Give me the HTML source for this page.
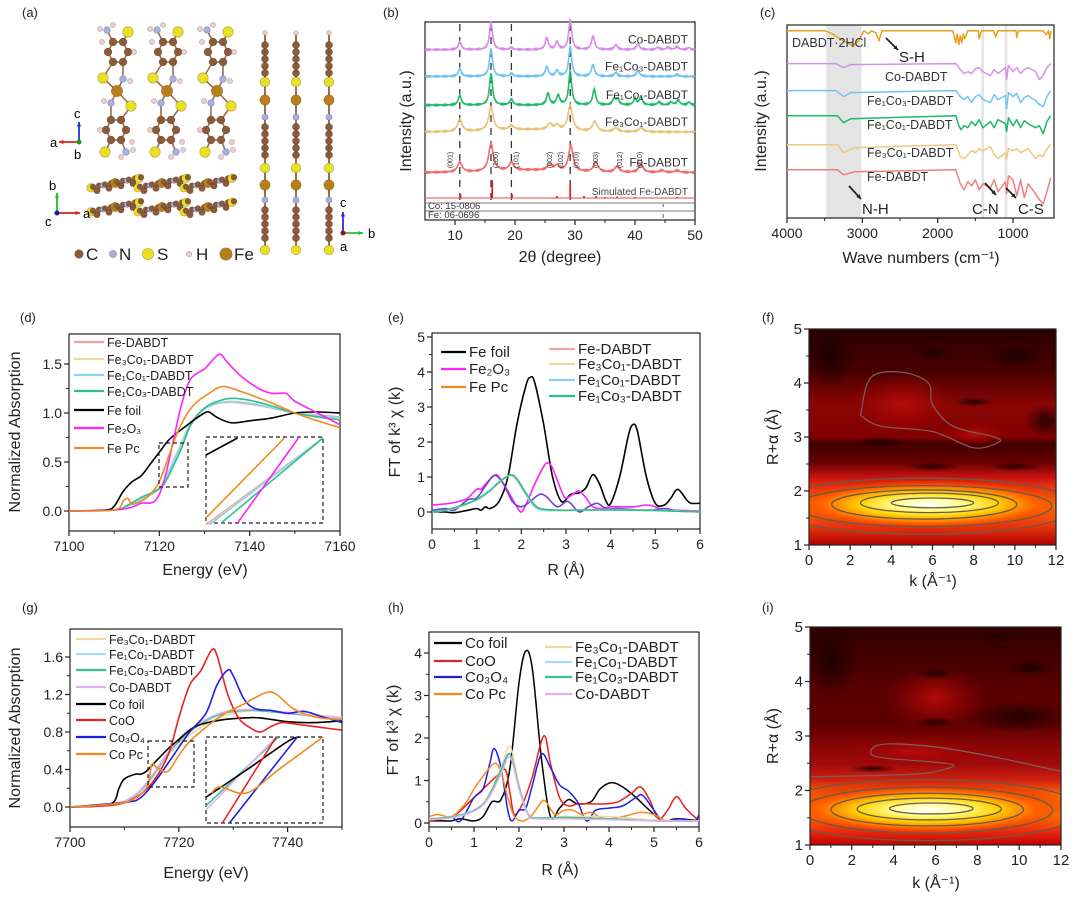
<!DOCTYPE html>
<html><head><meta charset="utf-8"><title>Fe/Co-DABDT characterization</title>
<style>
html,body{margin:0;padding:0;background:#fff;}
svg{display:block;font-family:"Liberation Sans","DejaVu Sans",sans-serif;}
</style></head>
<body>
<svg id="fig" xmlns="http://www.w3.org/2000/svg" width="1080" height="905" viewBox="0 0 1080 905">
<defs>
<radialGradient id="coreGrad" cx="50%" cy="50%" r="50%">
<stop offset="0" stop-color="#ffffff"/><stop offset="0.22" stop-color="#ffff90"/><stop offset="0.45" stop-color="#ffd000"/><stop offset="0.7" stop-color="#ff6000"/><stop offset="1" stop-color="#d01000" stop-opacity="0"/>
</radialGradient>
<radialGradient id="darkGrad" cx="50%" cy="50%" r="50%">
<stop offset="0" stop-color="#1a0000" stop-opacity="0.9"/><stop offset="1" stop-color="#1a0000" stop-opacity="0"/>
</radialGradient>
<radialGradient id="redGrad" cx="50%" cy="50%" r="50%">
<stop offset="0" stop-color="#b80c0c" stop-opacity="0.95"/><stop offset="1" stop-color="#a00000" stop-opacity="0"/>
</radialGradient>
<linearGradient id="fBg" x1="0" y1="0" x2="0" y2="1">
<stop offset="0" stop-color="#2a0000"/><stop offset="0.2" stop-color="#4a0000"/><stop offset="0.35" stop-color="#8a0505"/><stop offset="0.5" stop-color="#800000"/><stop offset="0.53" stop-color="#400000"/><stop offset="0.62" stop-color="#6a0000"/><stop offset="0.68" stop-color="#c01010"/><stop offset="0.74" stop-color="#f03a10"/><stop offset="0.82" stop-color="#ffa000"/><stop offset="0.9" stop-color="#f04010"/><stop offset="1" stop-color="#b00000"/>
</linearGradient>
<linearGradient id="iBg" x1="0" y1="0" x2="0" y2="1">
<stop offset="0" stop-color="#300000"/><stop offset="0.3" stop-color="#5a0000"/><stop offset="0.45" stop-color="#600000"/><stop offset="0.55" stop-color="#8a0505"/><stop offset="0.63" stop-color="#a00a0a"/><stop offset="0.7" stop-color="#d02010"/><stop offset="0.78" stop-color="#ff7000"/><stop offset="0.86" stop-color="#ffa000"/><stop offset="0.93" stop-color="#f03010"/><stop offset="1" stop-color="#c00000"/>
</linearGradient>
<clipPath id="clipD"><rect x="69" y="334" width="271" height="197"/></clipPath>
<clipPath id="clipE"><rect x="432" y="333" width="268" height="196"/></clipPath>
<clipPath id="clipG"><rect x="70" y="629" width="272" height="198"/></clipPath>
<clipPath id="clipH"><rect x="429" y="632" width="270" height="195"/></clipPath>
<clipPath id="clipF"><rect x="809" y="329" width="247" height="216"/></clipPath>
<clipPath id="clipI"><rect x="810" y="627" width="251" height="218"/></clipPath>
</defs>
</svg>
<script>
// ================= DATA =================
const xrdNames = ['Co-DABDT','Fe₁Co₃-DABDT','Fe₁Co₁-DABDT','Fe₃Co₁-DABDT','Fe-DABDT'];
const xrdOffsets = [86, 72.5, 58, 44.5, 24];
const xrdPeaksCo = [[10.8,4],[16,14],[19.4,1],[25.3,6],[27,4],[29.2,15],[33,7],[36.8,2.5],[40.5,3],[43.8,1.2],[45.5,1.2],[47,1.5],[49,1]];
const xrdPeaksFe1Co3 = [[10.8,4],[16,14],[19.4,1.5],[25.3,5],[27,3],[29.2,15],[33,6],[36.8,2],[40.5,3],[47,1]];
const xrdPeaksFe1Co1 = [[10.8,5],[16,16],[19.4,3],[25.5,6],[27.2,5],[29.2,17],[33.2,8],[36.5,3],[37.1,3],[40,3],[41,4],[44,1.5],[46,1.5],[47.2,2.5],[49,1.5]];
const xrdPeaksFe3Co1 = [[10.8,6],[16,12],[19.4,2],[25.8,3],[27,2.5],[29.2,13],[33.3,5],[36.8,2],[41,2]];
const xrdPeaksFe = [[10.8,5],[16,14],[19.4,4],[25.8,3],[27,2.5],[29.3,13],[33.5,5],[37,3],[41,4],[44.5,1],[47,1]];
const xrdSimSticks = [[10.9,2],[16.2,9],[19.5,2],[27,1],[29.2,7],[31.5,1],[33.5,1],[35,0.5],[37,0.7],[40,0.5],[47,0.5]];
const xrdDashes = [10.8, 16, 19.4, 29.2];
const xrdHkl = [['(001)',9.6],['(100)',17.2],['(101)',20.6],['(002)',26.2],['(102)',28],['(010)',30.6],['(003)',33.8],['(012)',37.8],['(210)',41.2]];
const irNames = ['DABDT·2HCl','Co-DABDT','Fe₁Co₃-DABDT','Fe₁Co₁-DABDT','Fe₃Co₁-DABDT','Fe-DABDT'];
const irBase = [97, 80, 66, 53, 38, 25];
const irDABDT = [[4000,0],[3500,0],[3400,3],[3300,8],[3200,12],[3130,15],[3050,10],[2980,0],[2920,3],[2880,0],[2820,2],[2780,10],[2740,0],[1800,0],[1760,12],[1740,3],[1720,14],[1700,5],[1680,12],[1660,3],[1640,8],[1600,0],[1460,0],[1450,8],[1420,0],[1260,0],[1230,6],[1200,0],[960,0],[950,7],[930,0],[600,0],[560,4],[530,0],[510,8],[500,0]];
const irCo = [[4000,0],[3350,0],[3250,4],[3150,1],[1760,0],[1700,6],[1650,10],[1600,8],[1550,10],[1500,5],[1450,4],[1400,8],[1300,12],[1250,6],[1200,10],[1100,4],[1085,16],[1060,2],[1000,8],[950,4],[900,10],[850,6],[800,4],[700,8],[650,16],[600,12],[550,4],[500,0]];
const irFe1Co3 = [[4000,0],[3350,0],[3250,6],[3150,2],[1760,0],[1700,6],[1650,9],[1600,6],[1550,12],[1500,6],[1450,4],[1400,9],[1300,12],[1250,4],[1200,9],[1100,5],[1085,18],[1060,2],[1000,6],[950,3],[900,12],[850,7],[800,5],[700,10],[650,14],[600,16],[550,6],[500,0]];
const irFe1Co1 = [[4000,0],[3330,0],[3250,7],[3150,3],[1760,0],[1720,10],[1690,14],[1650,10],[1600,12],[1550,6],[1500,10],[1450,4],[1400,12],[1300,6],[1250,12],[1200,4],[1100,8],[1085,16],[1060,2],[1000,10],[950,4],[900,12],[850,5],[800,8],[700,12],[650,10],[600,18],[550,6],[500,0]];
const irFe3Co1 = [[4000,0],[3330,0],[3250,8],[3100,3],[1760,0],[1700,12],[1650,14],[1600,10],[1550,6],[1500,8],[1450,4],[1400,6],[1300,2],[1250,10],[1200,14],[1100,8],[1085,14],[1060,4],[1000,6],[950,4],[900,8],[850,6],[800,4],[700,14],[650,10],[600,12],[550,4],[500,0]];
const irFe = [[4000,0],[3330,0],[3250,5],[3100,2],[1760,0],[1700,14],[1650,20],[1600,12],[1550,16],[1500,10],[1450,20],[1400,14],[1300,18],[1250,10],[1200,22],[1100,12],[1085,24],[1060,6],[1000,10],[950,26],[900,10],[850,28],[800,14],[700,24],[650,30],[600,34],[550,22],[500,8]];
const dNames = ['Fe-DABDT','Fe₃Co₁-DABDT','Fe₁Co₁-DABDT','Fe₁Co₃-DABDT','Fe foil','Fe₂O₃','Fe Pc'];
const dFeFoil = [[7100,0],[7108,0.01],[7110,0.05],[7112,0.2],[7114,0.3],[7116,0.36],[7118,0.48],[7120,0.6],[7122,0.72],[7124,0.8],[7126,0.87],[7128,0.94],[7130,1.0],[7131,1.01],[7133,0.95],[7136,0.9],[7140,0.92],[7145,0.95],[7150,1.0],[7155,1.01],[7160,1.0]];
const dFe2O3 = [[7100,0],[7110,0.01],[7114,0.04],[7116,0.08],[7119,0.1],[7121,0.3],[7123,0.7],[7125,1.1],[7127,1.35],[7130,1.45],[7132,1.55],[7133.5,1.6],[7135,1.52],[7138,1.38],[7142,1.25],[7145,1.2],[7148,1.2],[7150,1.12],[7155,1.0],[7160,0.88]];
const dFePc = [[7100,0],[7110,0.01],[7112,0.1],[7113,0.13],[7114,0.07],[7116,0.1],[7118,0.17],[7120,0.3],[7122,0.55],[7124,0.8],[7126,0.98],[7128,1.1],[7131,1.2],[7134,1.27],[7138,1.22],[7145,1.1],[7150,1.0],[7155,0.92],[7160,0.85]];
const dFeDABDT = [[7100,0],[7110,0.01],[7113,0.05],[7116,0.12],[7119,0.2],[7121,0.3],[7123,0.5],[7125,0.7],[7127,0.9],[7130,1.05],[7133,1.1],[7136,1.11],[7140,1.09],[7145,1.05],[7150,1.0],[7155,0.98],[7160,0.96]];
const dFe3Co1 = [[7100,0],[7110,0.01],[7113,0.05],[7116,0.12],[7119,0.2],[7121,0.31],[7123,0.51],[7125,0.71],[7127,0.91],[7130,1.05],[7133,1.1],[7136,1.12],[7140,1.1],[7145,1.05],[7150,1.0],[7155,0.97],[7160,0.95]];
const dFe1Co1 = [[7100,0],[7110,0.01],[7113,0.05],[7116,0.12],[7119,0.19],[7121,0.29],[7123,0.49],[7125,0.69],[7127,0.9],[7130,1.04],[7133,1.1],[7136,1.11],[7140,1.1],[7145,1.05],[7150,1.0],[7155,0.97],[7160,0.95]];
const dFe1Co3 = [[7100,0],[7110,0.01],[7113,0.06],[7116,0.14],[7119,0.2],[7121,0.27],[7123,0.45],[7125,0.65],[7127,0.88],[7130,1.05],[7133,1.12],[7136,1.15],[7140,1.13],[7145,1.07],[7150,1.0],[7155,0.96],[7160,0.93]];
const eFeFoil = [[0,0],[0.3,0],[0.5,-0.02],[0.8,0.05],[1,0.1],[1.1,0.05],[1.2,0.15],[1.3,0.1],[1.5,0.3],[1.7,1.0],[1.9,2.5],[2.1,3.6],[2.2,3.85],[2.3,3.7],[2.5,2.5],[2.7,1.0],[2.9,0.3],[3.1,0.5],[3.3,0.55],[3.45,0.7],[3.6,1.07],[3.75,0.8],[3.9,0.3],[4.0,0.25],[4.2,1.0],[4.4,2.2],[4.5,2.5],[4.6,2.3],[4.8,1.0],[5.0,0.25],[5.2,0.2],[5.35,0.4],[5.5,0.65],[5.7,0.35],[5.8,0.25],[6,0.25]];
const eFe2O3 = [[0,0.2],[0.2,0.22],[0.4,0.25],[0.6,0.3],[0.8,0.4],[1,0.65],[1.1,0.65],[1.2,0.8],[1.4,1.05],[1.5,1.0],[1.7,0.6],[1.9,0.15],[2.0,0],[2.1,0.2],[2.3,0.8],[2.5,1.3],[2.6,1.4],[2.7,1.25],[2.9,0.6],[3.0,0.4],[3.2,0.55],[3.3,0.6],[3.45,0.4],[3.6,0.15],[3.8,0.1],[4,0.15],[4.5,0.15],[4.8,0.2],[5,0.15],[5.2,0.05],[5.5,0.05],[6,0.02]];
const eFePc = [[0,0.05],[0.3,0.1],[0.5,0.05],[0.8,0.35],[1,0.4],[1.2,0.75],[1.4,1.05],[1.6,0.8],[1.8,0.3],[2,0.15],[2.2,0.3],[2.4,0.5],[2.55,0.45],[2.8,0.15],[3.0,0.3],[3.1,0.25],[3.3,0],[3.5,0.15],[3.7,0.25],[3.9,0.1],[4.2,0.1],[4.8,0.05],[5.2,0.1],[5.5,0.03],[6,0.02]];
const eFeDABDT = [[0,0],[0.3,0.05],[0.6,0.15],[1,0.35],[1.3,0.6],[1.5,0.85],[1.75,1.05],[1.9,0.9],[2.1,0.5],[2.3,0.15],[2.5,0.05],[3,0.05],[4,0.07],[5,0.05],[6,0]];
const eFe3Co1 = [[0,0],[0.3,0.05],[0.6,0.14],[1,0.34],[1.3,0.6],[1.5,0.84],[1.75,1.04],[1.9,0.9],[2.1,0.5],[2.3,0.14],[2.5,0.05],[3,0.05],[4,0.06],[5,0.05],[6,0]];
const eFe1Co1 = [[0,0],[0.3,0.05],[0.6,0.15],[1,0.35],[1.3,0.6],[1.5,0.86],[1.75,1.06],[1.9,0.92],[2.1,0.5],[2.3,0.15],[2.5,0.05],[3,0.05],[4,0.07],[5,0.05],[6,0]];
const eFe1Co3 = [[0,0],[0.3,0.06],[0.6,0.16],[1,0.36],[1.3,0.62],[1.5,0.85],[1.75,1.06],[1.9,0.95],[2.1,0.55],[2.3,0.2],[2.5,0.08],[3,0.05],[4,0.06],[5,0.04],[6,0]];
const gCoFoil = [[7700,0],[7705,0.01],[7708,0.05],[7709,0.2],[7710,0.3],[7712,0.35],[7713,0.35],[7714,0.38],[7716,0.5],[7718,0.62],[7720,0.72],[7722,0.82],[7724,0.88],[7728,0.93],[7732,0.95],[7735,0.95],[7740,0.91],[7745,0.9],[7750,0.92]];
const gCoO = [[7700,0],[7708,0.02],[7712,0.1],[7715,0.25],[7718,0.55],[7720,0.95],[7722,1.3],[7724,1.45],[7726,1.67],[7727,1.62],[7729,1.2],[7731,0.95],[7733,0.85],[7735,0.8],[7737,0.86],[7739,0.9],[7742,0.88],[7746,0.85],[7750,0.82]];
const gCo3O4 = [[7700,0],[7710,0.05],[7713,0.1],[7716,0.3],[7719,0.55],[7722,0.8],[7725,1.0],[7727,1.3],[7729,1.46],[7730,1.4],[7732,1.15],[7734,1.05],[7737,1.03],[7740,1.0],[7743,1.02],[7746,0.97],[7750,0.9]];
const gCoPc = [[7700,0],[7710,0.05],[7714,0.2],[7715,0.45],[7716,0.42],[7718,0.38],[7720,0.55],[7722,0.7],[7725,0.85],[7728,0.98],[7732,1.1],[7736,1.22],[7738,1.2],[7741,1.05],[7745,0.96],[7750,0.93]];
const gFe3Co1 = [[7700,0],[7708,0.03],[7712,0.12],[7715,0.3],[7718,0.55],[7721,0.72],[7724,0.85],[7727,0.94],[7730,1.0],[7734,1.03],[7740,1.0],[7745,0.98],[7750,0.96]];
const gFe1Co1 = [[7700,0],[7708,0.03],[7712,0.12],[7715,0.31],[7718,0.56],[7721,0.75],[7724,0.88],[7727,0.97],[7730,1.02],[7734,1.03],[7740,1.0],[7745,0.97],[7750,0.95]];
const gFe1Co3 = [[7700,0],[7708,0.03],[7712,0.13],[7715,0.32],[7718,0.57],[7721,0.76],[7724,0.89],[7727,0.98],[7730,1.02],[7734,1.03],[7740,1.0],[7745,0.97],[7750,0.94]];
const gCoDABDT = [[7700,0],[7708,0.03],[7712,0.13],[7715,0.33],[7718,0.58],[7721,0.78],[7724,0.9],[7727,0.99],[7730,1.03],[7734,1.04],[7740,1.01],[7745,0.97],[7750,0.95]];
const hCoFoil = [[0,0.05],[0.3,0.05],[0.5,0.05],[0.7,0.1],[1,0.05],[1.2,0.15],[1.4,0.5],[1.6,0.55],[1.8,1.3],[2.0,3.3],[2.15,4.05],[2.3,3.6],[2.5,1.5],[2.7,0.15],[2.9,0.35],[3.1,0.55],[3.3,0.45],[3.6,0.5],[3.8,0.8],[4.05,0.95],[4.3,0.85],[4.6,0.6],[4.9,0.3],[5.2,0.05],[5.5,0.1],[6,0.05]];
const hCoO = [[0,0.05],[0.3,0.1],[0.6,0.2],[0.9,0.5],[1.1,0.7],[1.3,0.9],[1.5,1.1],[1.7,1.25],[1.8,0.7],[1.9,0.2],[2.1,0.5],[2.3,1.1],[2.55,2.05],[2.7,1.4],[2.9,0.6],[3.1,0.4],[3.3,0.45],[3.6,0.45],[3.9,0.45],[4.2,0.5],[4.5,0.7],[4.7,0.85],[4.9,0.55],[5.1,0.1],[5.3,0.3],[5.5,0.62],[5.7,0.35],[6,0.05]];
const hCo3O4 = [[0,0.1],[0.3,0.1],[0.5,0.15],[0.7,0.05],[1,0.6],[1.2,0.8],[1.35,1.4],[1.45,1.75],[1.6,1.3],[1.75,0.3],[1.85,0.05],[2.0,0.3],[2.15,0.35],[2.3,0.9],[2.5,1.62],[2.7,1.3],[2.9,0.9],[3.1,0.75],[3.3,0.5],[3.5,0.05],[3.7,0.3],[4,0.35],[4.3,0.4],[4.6,0.6],[4.75,0.65],[5.0,0.3],[5.2,0.05],[5.6,0.1],[5.9,0.05],[6,0.2]];
const hCoPc = [[0,0.15],[0.2,0.2],[0.5,0.15],[0.8,0.45],[1,0.8],[1.2,1.1],[1.45,1.4],[1.6,1.2],[1.75,0.6],[1.9,0.15],[2.1,0.05],[2.3,0.2],[2.5,0.5],[2.6,0.5],[2.8,0.2],[3,0.3],[3.2,0.3],[3.4,0.2],[3.6,0.25],[3.9,0.1],[4.3,0.15],[4.7,0.25],[5,0.2],[5.3,0.05],[6,0.05]];
const hFe3Co1 = [[0,0.1],[0.5,0.15],[1,0.3],[1.3,0.6],[1.6,1.3],[1.8,1.8],[2.0,0.9],[2.2,0.2],[2.4,0.1],[3,0.15],[4,0.15],[5,0.07],[6,0.05]];
const hFe1Co1 = [[0,0.1],[0.5,0.12],[1,0.28],[1.3,0.55],[1.6,1.2],[1.8,1.6],[2.0,0.8],[2.2,0.2],[2.4,0.1],[3,0.12],[4,0.1],[5,0.05],[6,0.05]];
const hFe1Co3 = [[0,0.1],[0.5,0.14],[1,0.3],[1.3,0.58],[1.6,1.25],[1.8,1.62],[2.0,0.85],[2.2,0.22],[2.4,0.12],[3,0.13],[4,0.1],[5,0.05],[6,0.05]];
const hCoDABDT = [[0,0.08],[0.5,0.12],[1,0.28],[1.3,0.55],[1.6,1.15],[1.8,1.55],[2.0,0.8],[2.2,0.2],[2.4,0.1],[3,0.1],[4,0.08],[5,0.05],[6,0.05]];
const fCoreBlob = [5.8, 1.75, 7.5, 0.5];
const fRedLobes = [[4.5,3.6,2.6,0.6],[8,3.05,1.8,0.25]];
const fDarkSpots = [[3.5,2.9,1.3,0.09],[6,2.45,1.3,0.08],[10,2.45,1.3,0.08],[6,4.55,0.8,0.12],[8,3.65,1,0.09],[10,4.5,1.5,0.2],[11.5,3.3,1,0.3],[1,4.5,1.2,0.6]];
const fContours = [[6,1.78,2,0.09],[5.85,1.78,3.35,0.18],[5.6,1.75,4.5,0.27],[5.6,1.72,6.2,0.38],[5.6,1.72,7.5,0.52]];
const fLobeContour = [[2.5,3.4],[3,4.1],[4.5,4.2],[5.8,4.0],[6,3.6],[7,3.2],[9,3.0],[9.2,2.9],[8,2.8],[6,3.1],[3.5,3.2]];
const iCoreBlob = [5.6, 1.65, 7.5, 0.5];
const iRedLobes = [[5,2.7,3.5,0.3],[6,3.7,2.5,0.6]];
const iDarkSpots = [[3,2.4,1.2,0.07],[6,4.15,1,0.1],[9,4.8,0.8,0.1],[10.5,4.25,1.2,0.15],[6,3.25,1,0.1],[10,3.35,2.5,0.3],[1,4.4,1.3,0.7]];
const iContours = [[5.8,1.67,2,0.1],[5.7,1.66,3.45,0.2],[5.6,1.65,4.6,0.3],[5.6,1.64,6,0.42],[5.6,1.64,7.5,0.56]];
const iLobeLine = [[12,2.35],[9,2.6],[6,2.8],[3.5,2.85],[2.9,2.7],[3.5,2.6],[6.5,2.5],[6.7,2.42],[5,2.3],[0,2.25]];

// ================= HELPERS =================
const NS='http://www.w3.org/2000/svg';
const svg=document.getElementById('fig');
function mk(tag,attrs,parent){const e=document.createElementNS(NS,tag);for(const k in attrs)e.setAttribute(k,attrs[k]);(parent||svg).appendChild(e);return e;}
function txt(x,y,s,attrs,parent){const t=mk('text',Object.assign({x:x,y:y},attrs||{}),parent);t.textContent=s;return t;}
function lin(d0,d1,r0,r1){return v=>r0+(v-d0)*(r1-r0)/(d1-d0);}
function smooth(pts){
  if(pts.length<2)return '';
  let d='M'+pts[0][0].toFixed(1)+','+pts[0][1].toFixed(1);
  for(let i=0;i<pts.length-1;i++){
    const p0=pts[Math.max(0,i-1)],p1=pts[i],p2=pts[i+1],p3=pts[Math.min(pts.length-1,i+2)];
    const c1=[p1[0]+(p2[0]-p0[0])/6,p1[1]+(p2[1]-p0[1])/6],c2=[p2[0]-(p3[0]-p1[0])/6,p2[1]-(p3[1]-p1[1])/6];
    d+='C'+c1[0].toFixed(1)+','+c1[1].toFixed(1)+' '+c2[0].toFixed(1)+','+c2[1].toFixed(1)+' '+p2[0].toFixed(1)+','+p2[1].toFixed(1);
  }
  return d;
}
function poly(pts){return 'M'+pts.map(p=>p[0].toFixed(1)+','+p[1].toFixed(1)).join('L');}
function panelLabel(x,y,s){
  const t=txt(x,y,s,{'font-size':13,fill:'#222'});
  
  
}
function axes(name,box,sx,sy,xt,yt,xm,ym,xfmt,yfmt,fs){
  fs=fs||14;
  const g=mk('g',{});
  
  
  const r=mk('rect',{x:box.l,y:box.t,width:box.r-box.l,height:box.b-box.t,fill:'none',stroke:'#222','stroke-width':1.2},g);
  
  
  xt.forEach(v=>{
    const X=sx(v);
    const tk=mk('line',{x1:X,x2:X,y1:box.b,y2:box.b+5,stroke:'#222','stroke-width':1.2},g);
    
    
    const lb=txt(X,box.b+20,xfmt(v),{'font-size':fs,'text-anchor':'middle',fill:'#222'},g);
    
    
  });
  xm.forEach(v=>{
    const X=sx(v);
    const tk=mk('line',{x1:X,x2:X,y1:box.b,y2:box.b+3,stroke:'#222','stroke-width':1},g);
    
    
  });
  yt.forEach(v=>{
    const Y=sy(v);
    const tk=mk('line',{x1:box.l-5,x2:box.l,y1:Y,y2:Y,stroke:'#222','stroke-width':1.2},g);
    
    
    const lb=txt(box.l-7,Y+5,yfmt(v),{'font-size':fs,'text-anchor':'end',fill:'#222'},g);
    
    
  });
  ym.forEach(v=>{
    const Y=sy(v);
    const tk=mk('line',{x1:box.l-3,x2:box.l,y1:Y,y2:Y,stroke:'#222','stroke-width':1},g);
    
    
  });
}
function axTitleX(x,y,s,name,fs){
  const t=txt(x,y,s,{'font-size':fs||16,'text-anchor':'middle',fill:'#222'});
  
  
  return t;
}
function axTitleY(x,y,s,name,fs){
  const t=txt(0,0,s,{'font-size':fs||16,'text-anchor':'middle',fill:'#222',transform:'translate('+x+','+y+') rotate(-90)'});
  
  
  return t;
}
function series(name,data,sx,sy,color,w,clip,isPoly){
  const pts=data.map(p=>[sx(p[0]),sy(p[1])]);
  const p=mk('path',{d:isPoly?poly(pts):smooth(pts),fill:'none',stroke:color,'stroke-width':w||1.6,'stroke-linejoin':'round','clip-path':clip?'url(#'+clip+')':''});
  
  
  return p;
}
function legendEntry(name,x1,x2,y,label,color,fs){
  const l=mk('line',{x1:x1,x2:x2,y1:y,y2:y,stroke:color,'stroke-width':2.2});
  
  
  const t=txt(x2+3,y+5,label,{'font-size':fs||13,fill:'#222'});
  
  
}
function dashRect(name,x,y,w,h){
  const r=mk('rect',{x:x,y:y,width:w,height:h,fill:'none',stroke:'#222','stroke-width':1.2,'stroke-dasharray':'4,3'});
  
  
}

// ================= PANEL (a) =================
panelLabel(22,17,'(a)');
const atomCol={C:'#8a5a3a',N:'#aab0d8',S:'#e8e020',H:'#eccfcf',Fe:'#b8801a'};
const atomR={C:3.6,N:3,S:4.8,H:2.3,Fe:5.2};
function atom(x,y,t,scale){
  const c=mk('circle',{cx:x,cy:y,r:atomR[t]*(scale||1),fill:atomCol[t],stroke:t==='N'?'#8088c0':'rgba(60,30,10,0.35)','stroke-width':0.6});
  
  
}
// top view molecule (absolute offsets from column centre, y from top)
const molAtoms=[['N',-10,0],['H',-17,-1],['H',-4,-5],['S',11,2],['C',-4,12],['C',6,12],['C',11,22],['C',6,32],['C',-4,32],['C',-9,22],['H',-15,12],['H',17,22],['S',-14,48],['N',6,49],['H',13,51],['Fe',0,61],['N',-6,73],['H',-13,71],['S',14,76],['C',-6,90],['C',4,90],['C',9,100],['C',4,110],['C',-6,110],['C',-11,100],['H',-17,100],['H',15,112],['S',-12,122],['N',9,122],['H',16,120],['H',4,127]];
const molBonds=[[0,4],[3,5],[4,5],[5,6],[6,7],[7,8],[8,9],[9,4],[8,12],[7,13],[12,15],[13,15],[15,16],[15,18],[16,19],[18,20],[19,20],[20,21],[21,22],[22,23],[23,24],[24,19],[23,27],[22,28]];
[117,167,217].forEach(cx=>{
  const top=30;
  const bonds=mk('g',{stroke:'#9a7050','stroke-width':1.6});
  
  
  molBonds.forEach(b=>{const a=molAtoms[b[0]],c=molAtoms[b[1]];mk('line',{x1:cx+a[1],y1:top+a[2],x2:cx+c[1],y2:top+c[2]},bonds);});
  molAtoms.forEach(a=>atom(cx+a[1],top+a[2],a[0],1.1));
});
[[185,0],[212,-3]].forEach(row=>{
  [115,162,208].forEach(cx=>{
    for(let i=-4;i<=4;i++){
      const x=cx+i*6,y=row[0]-i*1.2+row[1];
      atom(x,y+((i%2)?2:-2),(Math.abs(i)===4)?'S':(i===0?'Fe':(i%2?'C':'N')),0.9);
      atom(x+2,y-3,'C',0.8);
    }
  });
});
const chainSeq=[['H',33],['C',45],['C',52],['C',59],['C',66],['C',73],['S',82],['Fe',100],['N',117],['C',127],['C',134],['C',141],['C',148],['C',155],['S',168],['Fe',185],['N',200],['C',210],['C',217],['C',224],['C',231],['C',238],['S',250]];
[265,296,329].forEach(x=>{
  const ln=mk('line',{x1:x,x2:x,y1:33,y2:250,stroke:'#9a7050','stroke-width':2});
  
  
  chainSeq.forEach(a=>atom(x,a[1],a[0]));
});
function arrow(x1,y1,x2,y2,color,name){
  const l=mk('line',{x1:x1,y1:y1,x2:x2,y2:y2,stroke:color,'stroke-width':1.8});
  
  
  const a=Math.atan2(y2-y1,x2-x1),s=5;
  const h=mk('polygon',{points:[[x2,y2],[x2-s*Math.cos(a-0.45),y2-s*Math.sin(a-0.45)],[x2-s*Math.cos(a+0.45),y2-s*Math.sin(a+0.45)]].map(p=>p.join(',')).join(' '),fill:color});
  
  
}
arrow(79,142,59,142,'#e02020','axis-arrow-a');arrow(79,142,79,122,'#2030e0','axis-arrow-c');
mk('circle',{cx:79,cy:142,r:2.5,fill:'#10a020'});
txt(50,147,'a',{'font-size':13});txt(74,118,'c',{'font-size':13});txt(74,159,'b',{'font-size':13});
arrow(57,213,57,193,'#20c030','axis-arrow-b2');arrow(57,213,80,213,'#e02020','axis-arrow-a2');
mk('circle',{cx:57,cy:213,r:2.5,fill:'#1020a0'});
txt(49,190,'b',{'font-size':13});txt(83,218,'a',{'font-size':13});txt(45,226,'c',{'font-size':13});
arrow(343,233,343,212,'#2030e0','axis-arrow-c3');arrow(343,233,363,233,'#20c030','axis-arrow-b3');
mk('circle',{cx:343,cy:233,r:2.5,fill:'#a01010'});
txt(340,207,'c',{'font-size':13});txt(368,238,'b',{'font-size':13});txt(340,251,'a',{'font-size':13});
[['C',79,86],['N',113,119],['S',148,157],['H',189,196],['Fe',226,234]].forEach(e=>{
  atom(e[1],254,e[0],1.2);
  const t=txt(e[2],260,e[0],{'font-size':17,fill:'#222'});
  
  
});

// ================= PANEL (b) =================
panelLabel(383,17,'(b)');
const bBox={l:425,r:695,t:22,b:220};
const bx=lin(5,50,425,695), by=lin(0,100,220,22);
axes('xrd',bBox,bx,by,[10,20,30,40,50],[],[15,25,35,45],[],v=>String(v),v=>'');
axTitleX(560,262,'2θ (degree)','xrd-x-axis-title');
axTitleY(411,121,'Intensity (a.u.)','xrd-y-axis-title');
const xrdCols=['#d98be8','#6ec3f0','#1fbb6a','#e8c47a','#ef6d6d'];
const xrdPeakSets=[xrdPeaksCo,xrdPeaksFe1Co3,xrdPeaksFe1Co1,xrdPeaksFe3Co1,xrdPeaksFe];
xrdDashes.forEach(v=>{
  const l=mk('line',{x1:bx(v),x2:bx(v),y1:24,y2:202,stroke:'#333','stroke-width':1.3,'stroke-dasharray':'7,6'});
  
  
});
xrdPeakSets.forEach((pk,si)=>{
  const w=si>=3?0.45:0.3;
  const pts=[];
  for(let t=5;t<=50;t+=0.08){
    let v=xrdOffsets[si];
    pk.forEach(p=>{v+=p[1]/(1+Math.pow((t-p[0])/w,2));});
    if(si>=3) v+=1.2*Math.exp(-Math.pow((t-22)/8,2));
    pts.push([bx(t),by(v)+Math.sin(t*37)*0.4]);
  }
  const p=mk('path',{d:poly(pts),fill:'none',stroke:xrdCols[si],'stroke-width':1.6});
  
  
  const lb=txt(688,by(xrdOffsets[si])-6,xrdNames[si],{'font-size':12,'text-anchor':'end',fill:'#333'});
  
  
});
xrdHkl.forEach(h=>{
  const t=txt(0,0,h[0],{'font-size':7,fill:'#333','text-anchor':'middle',transform:'translate('+bx(h[1])+',160) rotate(-90)'});
  
  
});
const simBase=11.1;
const sb=mk('line',{x1:425,x2:695,y1:by(simBase),y2:by(simBase),stroke:'#ef6d6d','stroke-width':1.2});


xrdSimSticks.forEach(s=>{
  const l=mk('line',{x1:bx(s[0]),x2:bx(s[0]),y1:by(simBase),y2:by(simBase+s[1]),stroke:'#e02020','stroke-width':1.8});
  
  
});
txt(688,195,'Simulated Fe-DABDT',{'font-size':10,'text-anchor':'end',fill:'#444'});
[203,211].forEach(y=>{const l=mk('line',{x1:425,x2:695,y1:y,y2:y,stroke:'#777','stroke-width':1});});
txt(428,209,'Co: 15-0806',{'font-size':9.5,fill:'#333'});
txt(428,218,'Fe:  06-0696',{'font-size':9.5,fill:'#333'});
mk('line',{x1:bx(44.7),x2:bx(44.7),y1:204,y2:207,stroke:'#a06080','stroke-width':1.2});
mk('line',{x1:bx(44.7),x2:bx(44.7),y1:214,y2:218,stroke:'#8060c0','stroke-width':1.2});

// ================= PANEL (c) =================
panelLabel(760,17,'(c)');
const cBox={l:787,r:1054,t:25,b:218};
const cx=lin(4000,500,787,1050.7), cy=lin(0,100,218,25);
[[3480,3010],[1420,1385],[1110,1075]].forEach(b=>{
  const r=mk('rect',{x:cx(b[0]),y:25,width:cx(b[1])-cx(b[0]),height:193,fill:'#e4e4e4'});
  
  
});
axes('ftir',cBox,cx,cy,[4000,3000,2000,1000],[],[3500,2500,1500],[],v=>String(v),v=>'');
axTitleX(921,263,'Wave numbers (cm⁻¹)','ftir-x-axis-title');
axTitleY(766,121,'Intensity (a.u.)','ftir-y-axis-title');
const irCols=['#e8a020','#d790e8','#72c4f0','#20b86a','#ecc880','#f08080'];
[irDABDT,irCo,irFe1Co3,irFe1Co1,irFe3Co1,irFe].forEach((d,i)=>{
  series('ftir-spectrum-'+i,d.map(p=>[p[0],irBase[i]-p[1]/1.93]),cx,cy,irCols[i],1.5,null,true);
});
[['DABDT·2HCl',792,47],['Co-DABDT',885,81],['Fe₁Co₃-DABDT',867,105],['Fe₁Co₁-DABDT',867,129],['Fe₃Co₁-DABDT',867,157],['Fe-DABDT',867,181]].forEach(l=>{
  const t=txt(l[1],l[2],l[0],{'font-size':12.5,fill:'#333'});
  
  
});
[['S-H',899,62],['N-H',862,214],['C-N',972,214],['C-S',1018,214]].forEach(l=>{
  const t=txt(l[1],l[2],l[0],{'font-size':15,fill:'#222'});
  
  
});
arrow(886,38,898,50,'#222','ftir-sh-arrow');arrow(849,186,861,199,'#222','ftir-nh-arrow');
arrow(985,183,996,195,'#222','ftir-cn-arrow');arrow(1006,188,1016,198,'#222','ftir-cs-arrow');

// ================= PANEL (d) =================
panelLabel(20,322,'(d)');
const dBox={l:69,r:340,t:334,b:531};
const dx=lin(7100,7160,69,340), dy=lin(0,1.5,511,364);
axes('fe-xanes',dBox,dx,dy,[7100,7120,7140,7160],[0,0.5,1,1.5],[7110,7130,7150],[0.25,0.75,1.25],v=>String(v),v=>v.toFixed(1));
axTitleX(205,575,'Energy (eV)','fe-xanes-x-axis-title');
axTitleY(20,432,'Normalized  Absorption','fe-xanes-y-axis-title');
const dCols=['#f2a3a3','#f0d8a0','#8fd0f5','#2fc08a','#000000','#ff22ff','#f08a20'];
[dFeDABDT,dFe3Co1,dFe1Co1,dFe1Co3,dFeFoil,dFe2O3,dFePc].forEach((d,i)=>series('fe-xanes-'+dNames[i].toLowerCase().replace(/[^a-z0-9]+/g,'-'),d,dx,dy,dCols[i],1.6,'clipD'));
dashRect('fe-xanes-zoom-region',159,443,29,44);
dashRect('fe-xanes-inset-box',206,437,117,86);
const dInsetX=lin(0,1,206,323), dInsetY=lin(0,1,523,438);
const dInsetLines=[['#f08a20',[[0,0.06],[0.67,1]]],['#f2a3a3',[[0,-0.02],[1,1]]],['#f0d8a0',[[0.02,-0.02],[1,1]]],['#8fd0f5',[[0.03,-0.02],[1,1]]],['#2fc08a',[[0.13,0],[1,1]]],['#ff22ff',[[0.27,0],[0.79,1]]],['#000',[[0,0.8],[0.27,1]]]];
dInsetLines.forEach((l,i)=>series('fe-xanes-inset-line-'+i,l[1],dInsetX,dInsetY,l[0],1.6,null,true));
dNames.forEach((n,i)=>legendEntry('fe-xanes-legend-'+i,74,104,[342,359,375,391,410,428,448][i],n,dCols[i],12.5));

// ================= PANEL (e) =================
panelLabel(388,322,'(e)');
const eBox={l:432,r:700,t:333,b:529};
const ex=lin(0,6,432,700), ey=lin(0,5,512,337);
axes('fe-exafs',eBox,ex,ey,[0,1,2,3,4,5,6],[0,1,2,3,4,5],[0.5,1.5,2.5,3.5,4.5,5.5],[0.5,1.5,2.5,3.5,4.5],v=>String(v),v=>String(v));
axTitleX(566,575,'R (Å)','fe-exafs-x-axis-title');
axTitleY(400,432,'FT of k³ χ (k)','fe-exafs-y-axis-title');
const eCols=['#000000','#ff22ff','#7040d0','#f2a3a3','#f0d8a0','#8fd0f5','#2fc08a'];
[eFeFoil,eFe2O3,eFePc,eFeDABDT,eFe3Co1,eFe1Co1,eFe1Co3].forEach((d,i)=>series('fe-exafs-series-'+i,d,ex,ey,eCols[i],1.6,'clipE'));
[['Fe foil','#000',352],['Fe₂O₃','#ff22ff',369],['Fe Pc','#f08a20',387]].forEach((l,i)=>legendEntry('fe-exafs-legend-left-'+i,441,466,l[2],l[0],l[1],15));
[['Fe-DABDT','#f2a3a3',349],['Fe₃Co₁-DABDT','#f0d8a0',364],['Fe₁Co₁-DABDT','#8fd0f5',380],['Fe₁Co₃-DABDT','#2fc08a',396]].forEach((l,i)=>legendEntry('fe-exafs-legend-right-'+i,549,575,l[2],l[0],l[1],15));

// ================= WT heatmaps =================
function wtPanel(pfx,box,kx,ry,bg,clip,core,lobes,darks,contours,lobePath,closed){
  const g=mk('g',{'clip-path':'url(#'+clip+')'});
  
  
  mk('rect',{x:box.l,y:box.t,width:box.r-box.l,height:box.b-box.t,fill:'url(#'+bg+')'},g);
  const kpx=(kx(1)-kx(0)), rpx=(ry(0)-ry(1));
  lobes.forEach(b=>{const e=mk('ellipse',{cx:kx(b[0]),cy:ry(b[1]),rx:b[2]*kpx,ry:b[3]*rpx,fill:'url(#redGrad)'},g);});
  darks.forEach(b=>{const e=mk('ellipse',{cx:kx(b[0]),cy:ry(b[1]),rx:b[2]*kpx,ry:b[3]*rpx,fill:'url(#darkGrad)'},g);});
  const c=mk('ellipse',{cx:kx(core[0]),cy:ry(core[1]),rx:core[2]*kpx,ry:core[3]*rpx,fill:'url(#coreGrad)'},g);
  
  
  contours.forEach(b=>{const e=mk('ellipse',{cx:kx(b[0]),cy:ry(b[1]),rx:b[2]*kpx,ry:b[3]*rpx,fill:'none',stroke:'#6a5a4a','stroke-width':1.3},g);});
  const pts=lobePath.map(p=>[kx(p[0]),ry(p[1])]);
  if(closed) pts.push(pts[0]);
  const lp=mk('path',{d:smooth(pts)+(closed?'Z':''),fill:'none',stroke:'#7a6060','stroke-width':1.2},g);
  
  
}
panelLabel(762,322,'(f)');
const fBox={l:809,r:1056,t:329,b:545};
const fx=lin(0,12,809,1056), fy=lin(1,5,545,329);
wtPanel('fe-wt',fBox,fx,fy,'fBg','clipF',fCoreBlob,fRedLobes,fDarkSpots,fContours,fLobeContour,true);
axes('fe-wt',fBox,fx,fy,[0,2,4,6,8,10,12],[1,2,3,4,5],[1,3,5,7,9,11],[1.5,2.5,3.5,4.5],v=>String(v),v=>String(v),15);
axTitleX(933,586,'k (Å⁻¹)','fe-wt-x-axis-title');
axTitleY(778,437,'R+α  (Å)','fe-wt-y-axis-title');

panelLabel(762,612,'(i)');
const iBox={l:810,r:1061,t:627,b:845};
const ix=lin(0,12,810,1061), iy=lin(1,5,845,627);
wtPanel('co-wt',iBox,ix,iy,'iBg','clipI',iCoreBlob,iRedLobes,iDarkSpots,iContours,iLobeLine,false);
axes('co-wt',iBox,ix,iy,[0,2,4,6,8,10,12],[1,2,3,4,5],[1,3,5,7,9,11],[1.5,2.5,3.5,4.5],v=>String(v),v=>String(v),15);
axTitleX(936,888,'k (Å⁻¹)','co-wt-x-axis-title');
axTitleY(778,736,'R+α  (Å)','co-wt-y-axis-title');

// ================= PANEL (g) =================
panelLabel(22,612,'(g)');
const gBox={l:70,r:342,t:629,b:827};
const gx=lin(7700,7750,70,342), gy=lin(0,1.6,807,657);
axes('co-xanes',gBox,gx,gy,[7700,7720,7740],[0,0.4,0.8,1.2,1.6],[7710,7730,7750],[0.2,0.6,1.0,1.4],v=>String(v),v=>v.toFixed(1));
axTitleX(206,878,'Energy (eV)','co-xanes-x-axis-title');
axTitleY(20,728,'Normalized  Absorption','co-xanes-y-axis-title');
const gNames=['Fe₃Co₁-DABDT','Fe₁Co₁-DABDT','Fe₁Co₃-DABDT','Co-DABDT','Co foil','CoO','Co₃O₄','Co Pc'];
const gCols=['#f0d8a0','#a8dcf5','#3cc090','#e0b0f0','#000000','#e82020','#2020e0','#f08a20'];
[gFe3Co1,gFe1Co1,gFe1Co3,gCoDABDT,gCoFoil,gCoO,gCo3O4,gCoPc].forEach((d,i)=>series('co-xanes-series-'+i,d,gx,gy,gCols[i],1.6,'clipG'));
dashRect('co-xanes-zoom-region',148,741,46,46);
dashRect('co-xanes-inset-box',206,737,117,86);
const gInsetX=lin(0,1,206,323), gInsetY=lin(0,1,823,737);
const gInsetLines=[['#3cc090',[[0,0.2],[0.62,1]]],['#e0b0f0',[[0,0.15],[0.6,1]]],['#000',[[0,0.3],[0.35,0.62],[0.7,0.95],[0.8,1]]],['#e82020',[[0.14,0],[0.6,1]]],['#2020e0',[[0.2,0],[0.78,1]]],['#f08a20',[[0.05,0.35],[0.12,0.42],[0.35,0.35],[0.62,0.62],[1,1]]]];
gInsetLines.forEach((l,i)=>series('co-xanes-inset-line-'+i,l[1],gInsetX,gInsetY,l[0],1.6,null,l[1].length<3));
gNames.forEach((n,i)=>legendEntry('co-xanes-legend-'+i,76,106,[639,654,670,687,704,720,737,754][i],n,gCols[i],12.5));

// ================= PANEL (h) =================
panelLabel(388,612,'(h)');
const hBox={l:429,r:699,t:632,b:827};
const hx=lin(0,6,429,699), hy=lin(0,4,823,653);
axes('co-exafs',hBox,hx,hy,[0,1,2,3,4,5,6],[0,1,2,3,4],[0.5,1.5,2.5,3.5,4.5,5.5],[0.5,1.5,2.5,3.5],v=>String(v),v=>String(v));
axTitleX(560,875,'R (Å)','co-exafs-x-axis-title');
axTitleY(398,730,'FT of k³ χ (k)','co-exafs-y-axis-title');
const hCols=['#000000','#e82020','#2020e0','#f08a20','#f0d8a0','#a8dcf5','#3cc090','#e0b0f0'];
[hCoFoil,hCoO,hCo3O4,hCoPc,hFe3Co1,hFe1Co1,hFe1Co3,hCoDABDT].forEach((d,i)=>series('co-exafs-series-'+i,d,hx,hy,hCols[i],1.5,'clipH'));
[['Co foil','#000',643],['CoO','#e82020',661],['Co₃O₄','#2020e0',677],['Co Pc','#f08a20',694]].forEach((l,i)=>legendEntry('co-exafs-legend-left-'+i,434,462,l[2],l[0],l[1],15));
[['Fe₃Co₁-DABDT','#f0d8a0',647],['Fe₁Co₁-DABDT','#a8dcf5',662],['Fe₁Co₃-DABDT','#3cc090',677],['Co-DABDT','#e0b0f0',694]].forEach((l,i)=>legendEntry('co-exafs-legend-right-'+i,545,572,l[2],l[0],l[1],15));
</script>
</body></html>
